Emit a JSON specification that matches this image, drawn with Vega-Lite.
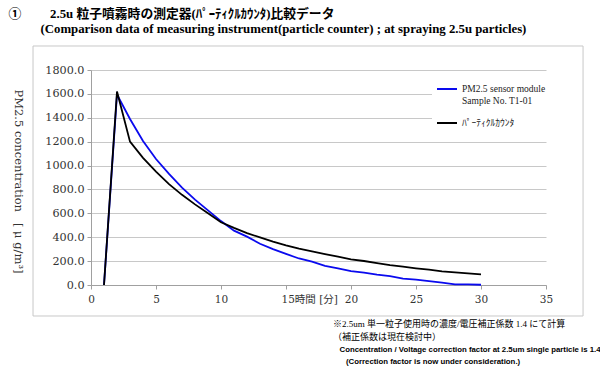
{
  "$schema": "https://vega.github.io/schema/vega-lite/v6.json",
  "width": 455,
  "height": 215,
  "autosize": {"type": "none"},
  "padding": {"left": 91, "top": 70, "right": 54, "bottom": 86},
  "background": "white",
  "config": {
    "view": {"stroke": null},
    "font": "Liberation Serif",
    "axisX": {
      "labelFlush": false,
      "grid": false,
      "domainColor": "#a0a0a0",
      "tickColor": "#a0a0a0",
      "tickSize": 4,
      "labelFont": "DejaVu Serif, Noto Sans CJK JP",
      "labelFontSize": 10.5,
      "labelColor": "#333333",
      "labelPadding": 5,
      "titleFont": "Liberation Serif, Noto Sans CJK JP",
      "titleFontSize": 12.8,
      "titleFontWeight": "bold",
      "titleColor": "#000000",
      "titleX": -83,
      "titleY": -278,
      "titleAlign": "left",
      "titleBaseline": "top",
      "titleLineHeight": 15
    },
    "axisY": {
      "labelFlush": false,
      "labelOverlap": false,
      "grid": true,
      "gridColor": "#c8c8c8",
      "domainColor": "#a0a0a0",
      "tickColor": "#a0a0a0",
      "tickSize": 4,
      "labelFont": "DejaVu Serif",
      "labelFontSize": 11.2,
      "labelColor": "#333333",
      "labelPadding": 3,
      "titleFont": "DejaVu Serif",
      "titleFontSize": 11.5,
      "titleFontWeight": "normal",
      "titleColor": "#333333",
      "titleAngle": 90,
      "titleX": -73.5,
      "titleY": 111,
      "titleAlign": "center",
      "titleBaseline": "middle"
    }
  },
  "title": {
    "text": ["※2.5um 単一粒子使用時の濃度/電圧補正係数 1.4 にて計算", "（補正係数は現在検討中）"],
    "subtitle": ["\u200b\u00a0\u00a0\u00a0Concentration / Voltage correction factor at 2.5um single particle is 1.4", "\u200b\u00a0\u00a0\u00a0\u00a0\u00a0\u00a0(Correction factor is now under consideration.)"],
    "orient": "bottom",
    "anchor": "start",
    "frame": "group",
    "dx": 242,
    "offset": 4,
    "font": "Liberation Serif, Noto Sans CJK JP",
    "fontSize": 9,
    "fontWeight": "normal",
    "lineHeight": 13,
    "color": "#000000",
    "subtitleFont": "Liberation Sans",
    "subtitleFontSize": 7.8,
    "subtitleFontWeight": "bold",
    "subtitleLineHeight": 12,
    "subtitlePadding": 4,
    "subtitleColor": "#000000"
  },
  "data": {
    "values": [
      {"t": 1, "series": "PM2.5 sensor module Sample No. T1-01", "v": 0},
      {"t": 2, "series": "PM2.5 sensor module Sample No. T1-01", "v": 1595},
      {"t": 3, "series": "PM2.5 sensor module Sample No. T1-01", "v": 1390},
      {"t": 4, "series": "PM2.5 sensor module Sample No. T1-01", "v": 1205},
      {"t": 5, "series": "PM2.5 sensor module Sample No. T1-01", "v": 1055},
      {"t": 6, "series": "PM2.5 sensor module Sample No. T1-01", "v": 930},
      {"t": 7, "series": "PM2.5 sensor module Sample No. T1-01", "v": 815},
      {"t": 8, "series": "PM2.5 sensor module Sample No. T1-01", "v": 715},
      {"t": 9, "series": "PM2.5 sensor module Sample No. T1-01", "v": 625},
      {"t": 10, "series": "PM2.5 sensor module Sample No. T1-01", "v": 535},
      {"t": 11, "series": "PM2.5 sensor module Sample No. T1-01", "v": 455},
      {"t": 12, "series": "PM2.5 sensor module Sample No. T1-01", "v": 405},
      {"t": 13, "series": "PM2.5 sensor module Sample No. T1-01", "v": 345},
      {"t": 14, "series": "PM2.5 sensor module Sample No. T1-01", "v": 300},
      {"t": 15, "series": "PM2.5 sensor module Sample No. T1-01", "v": 260},
      {"t": 16, "series": "PM2.5 sensor module Sample No. T1-01", "v": 222},
      {"t": 17, "series": "PM2.5 sensor module Sample No. T1-01", "v": 195},
      {"t": 18, "series": "PM2.5 sensor module Sample No. T1-01", "v": 160},
      {"t": 19, "series": "PM2.5 sensor module Sample No. T1-01", "v": 140},
      {"t": 20, "series": "PM2.5 sensor module Sample No. T1-01", "v": 117},
      {"t": 21, "series": "PM2.5 sensor module Sample No. T1-01", "v": 103},
      {"t": 22, "series": "PM2.5 sensor module Sample No. T1-01", "v": 86},
      {"t": 23, "series": "PM2.5 sensor module Sample No. T1-01", "v": 75},
      {"t": 24, "series": "PM2.5 sensor module Sample No. T1-01", "v": 53},
      {"t": 25, "series": "PM2.5 sensor module Sample No. T1-01", "v": 45},
      {"t": 26, "series": "PM2.5 sensor module Sample No. T1-01", "v": 33},
      {"t": 27, "series": "PM2.5 sensor module Sample No. T1-01", "v": 20},
      {"t": 28, "series": "PM2.5 sensor module Sample No. T1-01", "v": 6},
      {"t": 29, "series": "PM2.5 sensor module Sample No. T1-01", "v": 6},
      {"t": 30, "series": "PM2.5 sensor module Sample No. T1-01", "v": 2},
      {"t": 1, "series": "ﾊﾟｰﾃｨｸﾙｶｳﾝﾀ", "v": 0},
      {"t": 2, "series": "ﾊﾟｰﾃｨｸﾙｶｳﾝﾀ", "v": 1620},
      {"t": 3, "series": "ﾊﾟｰﾃｨｸﾙｶｳﾝﾀ", "v": 1200},
      {"t": 4, "series": "ﾊﾟｰﾃｨｸﾙｶｳﾝﾀ", "v": 1065},
      {"t": 5, "series": "ﾊﾟｰﾃｨｸﾙｶｳﾝﾀ", "v": 950},
      {"t": 6, "series": "ﾊﾟｰﾃｨｸﾙｶｳﾝﾀ", "v": 845},
      {"t": 7, "series": "ﾊﾟｰﾃｨｸﾙｶｳﾝﾀ", "v": 755},
      {"t": 8, "series": "ﾊﾟｰﾃｨｸﾙｶｳﾝﾀ", "v": 675},
      {"t": 9, "series": "ﾊﾟｰﾃｨｸﾙｶｳﾝﾀ", "v": 600},
      {"t": 10, "series": "ﾊﾟｰﾃｨｸﾙｶｳﾝﾀ", "v": 525},
      {"t": 11, "series": "ﾊﾟｰﾃｨｸﾙｶｳﾝﾀ", "v": 478},
      {"t": 12, "series": "ﾊﾟｰﾃｨｸﾙｶｳﾝﾀ", "v": 435},
      {"t": 13, "series": "ﾊﾟｰﾃｨｸﾙｶｳﾝﾀ", "v": 398},
      {"t": 14, "series": "ﾊﾟｰﾃｨｸﾙｶｳﾝﾀ", "v": 363},
      {"t": 15, "series": "ﾊﾟｰﾃｨｸﾙｶｳﾝﾀ", "v": 332},
      {"t": 16, "series": "ﾊﾟｰﾃｨｸﾙｶｳﾝﾀ", "v": 304},
      {"t": 17, "series": "ﾊﾟｰﾃｨｸﾙｶｳﾝﾀ", "v": 282},
      {"t": 18, "series": "ﾊﾟｰﾃｨｸﾙｶｳﾝﾀ", "v": 259},
      {"t": 19, "series": "ﾊﾟｰﾃｨｸﾙｶｳﾝﾀ", "v": 237},
      {"t": 20, "series": "ﾊﾟｰﾃｨｸﾙｶｳﾝﾀ", "v": 215},
      {"t": 21, "series": "ﾊﾟｰﾃｨｸﾙｶｳﾝﾀ", "v": 201},
      {"t": 22, "series": "ﾊﾟｰﾃｨｸﾙｶｳﾝﾀ", "v": 184},
      {"t": 23, "series": "ﾊﾟｰﾃｨｸﾙｶｳﾝﾀ", "v": 167},
      {"t": 24, "series": "ﾊﾟｰﾃｨｸﾙｶｳﾝﾀ", "v": 153},
      {"t": 25, "series": "ﾊﾟｰﾃｨｸﾙｶｳﾝﾀ", "v": 140},
      {"t": 26, "series": "ﾊﾟｰﾃｨｸﾙｶｳﾝﾀ", "v": 128},
      {"t": 27, "series": "ﾊﾟｰﾃｨｸﾙｶｳﾝﾀ", "v": 114},
      {"t": 28, "series": "ﾊﾟｰﾃｨｸﾙｶｳﾝﾀ", "v": 106},
      {"t": 29, "series": "ﾊﾟｰﾃｨｸﾙｶｳﾝﾀ", "v": 98},
      {"t": 30, "series": "ﾊﾟｰﾃｨｸﾙｶｳﾝﾀ", "v": 89}
    ]
  },
  "layer": [
    {
      "mark": {"type": "line", "strokeWidth": 1.8},
      "encoding": {
        "x": {
          "field": "t",
          "type": "quantitative",
          "scale": {"domain": [0, 35], "nice": false, "zero": false},
          "axis": {
            "values": [0, 5, 10, 15, 20, 25, 30, 35],
            "format": "d",
            "labelExpr": "datum.value == 15 ? '15時間 [分]' : datum.label",
            "labelAlign": {"condition": {"test": "datum.value == 15", "value": "left"}, "value": "center"},
            "labelOffset": {"condition": {"test": "datum.value == 15", "value": -5}, "value": 0},
            "title": ["①\u3000\u3000 2.5u 粒子噴霧時の測定器(ﾊﾟｰﾃｨｸﾙｶｳﾝﾀ)比較データ", "\u200b\u3000\u3000\u00a0\u00a0(Comparison data of measuring instrument(particle counter) ; at spraying 2.5u particles)"]
          }
        },
        "y": {
          "field": "v",
          "type": "quantitative",
          "scale": {"domain": [0, 1800], "nice": false},
          "axis": {
            "values": [0, 200, 400, 600, 800, 1000, 1200, 1400, 1600, 1800],
            "format": ".1f",
            "title": "PM2.5 concentration\u00a0\u00a0\u00a0[ μ g/m³]"
          }
        },
        "color": {
          "field": "series",
          "type": "nominal",
          "scale": {"domain": ["PM2.5 sensor module Sample No. T1-01", "ﾊﾟｰﾃｨｸﾙｶｳﾝﾀ"], "range": ["#0a0aee", "#000000"]},
          "legend": {
            "orient": "none",
            "legendX": 341,
            "legendY": 4,
            "title": null,
            "symbolType": "stroke",
            "symbolSize": 400,
            "symbolStrokeWidth": 2,
            "labelFont": "Liberation Serif, Noto Sans CJK JP",
            "labelFontSize": 9.5,
            "labelColor": "#222222",
            "labelLimit": 200,
            "labelOffset": 4,
            "labelExpr": "datum.label == 'ﾊﾟｰﾃｨｸﾙｶｳﾝﾀ' ? datum.label : ['PM2.5 sensor module', 'Sample No. T1-01']",
            "fillColor": "white",
            "padding": 4,
            "rowPadding": 7
          }
        }
      }
    },
    {
      "data": {"values": [{}]},
      "mark": {"type": "rect", "fill": null, "stroke": "#c8c8c8", "strokeWidth": 1},
      "encoding": {
        "x": {
          "datum": -4.46,
          "type": "quantitative",
          "axis": {
            "values": [0, 5, 10, 15, 20, 25, 30, 35],
            "format": "d",
            "labelExpr": "datum.value == 15 ? '15時間 [分]' : datum.label",
            "labelAlign": {"condition": {"test": "datum.value == 15", "value": "left"}, "value": "center"},
            "labelOffset": {"condition": {"test": "datum.value == 15", "value": -5}, "value": 0},
            "title": ["①\u3000\u3000 2.5u 粒子噴霧時の測定器(ﾊﾟｰﾃｨｸﾙｶｳﾝﾀ)比較データ", "\u200b\u3000\u3000\u00a0\u00a0(Comparison data of measuring instrument(particle counter) ; at spraying 2.5u particles)"]
          }
        },
        "x2": {"datum": 37.85},
        "y": {
          "datum": -259.5,
          "type": "quantitative",
          "axis": {
            "values": [0, 200, 400, 600, 800, 1000, 1200, 1400, 1600, 1800],
            "format": ".1f",
            "title": "PM2.5 concentration\u00a0\u00a0\u00a0[ μ g/m³]"
          }
        },
        "y2": {"datum": 2001}
      }
    }
  ]
}
